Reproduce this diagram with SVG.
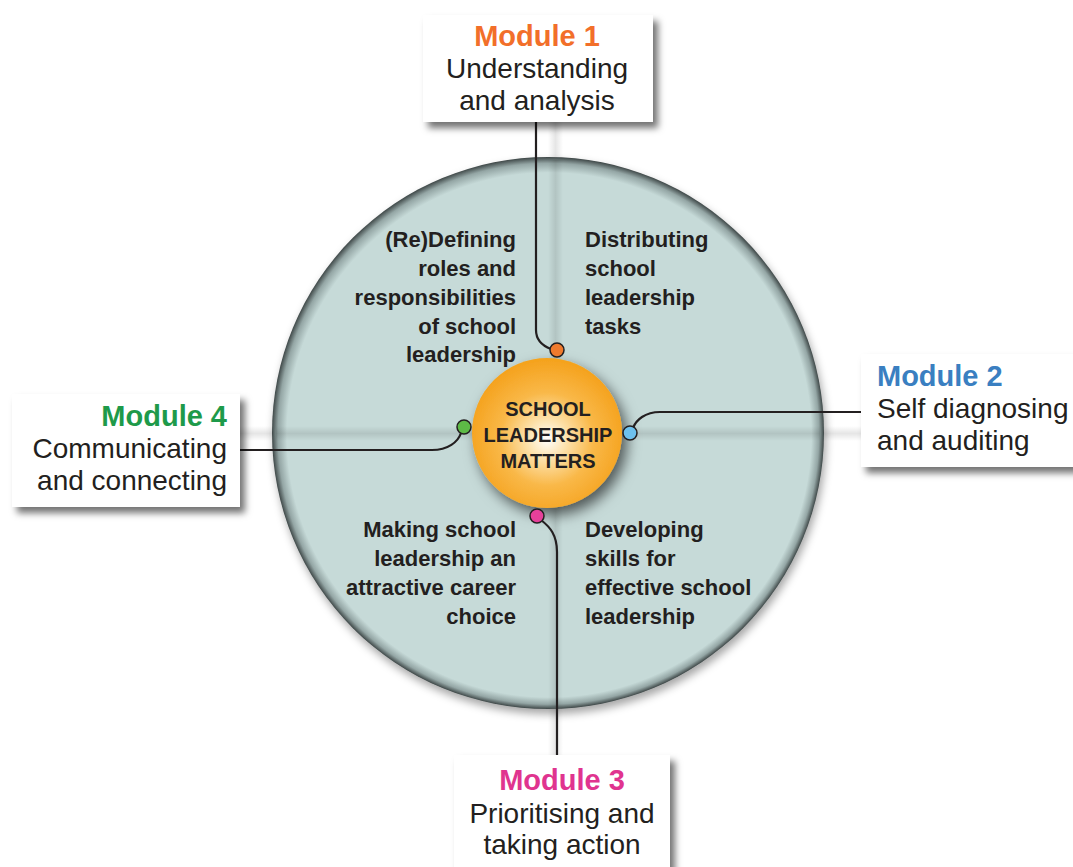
<svg xmlns="http://www.w3.org/2000/svg" width="1073" height="867" viewBox="0 0 1073 867">
<defs>
<style>
.box{fill:#ffffff;filter:url(#boxsh)}
.ttl{font-family:"Liberation Sans",Arial,sans-serif;font-weight:bold;font-size:29px}
.sub{font-family:"Liberation Sans",Arial,sans-serif;font-size:28px;fill:#231f20}
.in{font-family:"Liberation Sans",Arial,sans-serif;font-weight:bold;font-size:22px;fill:#231f20}
.ctr{font-family:"Liberation Sans",Arial,sans-serif;font-weight:bold;font-size:20px;fill:#231f20;text-anchor:middle}
.con{fill:none;stroke:#231f20;stroke-width:2.2}
.dot{stroke:#231f20;stroke-width:1.5}
</style>
<filter id="boxsh" x="-20%" y="-20%" width="150%" height="160%">
<feDropShadow dx="5" dy="6" stdDeviation="3.5" flood-color="#000" flood-opacity="0.55"/>
</filter>
<filter id="bigsh" x="-20%" y="-20%" width="140%" height="140%">
<feDropShadow dx="2" dy="5" stdDeviation="4" flood-color="#000" flood-opacity="0.35"/>
</filter>
<filter id="orsh" x="-40%" y="-40%" width="180%" height="180%">
<feDropShadow dx="5" dy="7" stdDeviation="7" flood-color="#000" flood-opacity="0.6"/>
</filter>
<radialGradient id="bigg" cx="50%" cy="50%" r="50%" fx="54%" fy="57%">
<stop offset="0" stop-color="#c6dad8"/>
<stop offset="0.95" stop-color="#c6dad8"/>
<stop offset="0.98" stop-color="#94a6a5"/>
<stop offset="1" stop-color="#3e4747"/>
</radialGradient>
<radialGradient id="org" cx="50%" cy="54%" r="52%">
<stop offset="0" stop-color="#ffffff"/>
<stop offset="0.25" stop-color="#fde2ad"/>
<stop offset="0.6" stop-color="#f9b848"/>
<stop offset="1" stop-color="#f5a31f"/>
</radialGradient>
<linearGradient id="vband" x1="0" y1="0" x2="1" y2="0">
<stop offset="0" stop-color="#000" stop-opacity="0"/>
<stop offset="0.5" stop-color="#000" stop-opacity="0.1"/>
<stop offset="1" stop-color="#000" stop-opacity="0"/>
</linearGradient>
<linearGradient id="hband" x1="0" y1="0" x2="0" y2="1">
<stop offset="0" stop-color="#000" stop-opacity="0"/>
<stop offset="0.5" stop-color="#000" stop-opacity="0.1"/>
<stop offset="1" stop-color="#000" stop-opacity="0"/>
</linearGradient>
</defs>
<rect width="1073" height="867" fill="#ffffff"/>

<g id="hub">
<rect x="548" y="120" width="15" height="640" fill="url(#vband)"/>
<rect x="238" y="426" width="626" height="15" fill="url(#hband)"/>
<circle cx="548" cy="433" r="276" fill="url(#bigg)" filter="url(#bigsh)"/>
<rect x="548" y="160" width="15" height="547" fill="url(#vband)"/>
<rect x="276" y="426" width="544" height="15" fill="url(#hband)"/>
<circle cx="547" cy="433" r="75" fill="url(#org)" filter="url(#orsh)"/>
<text class="ctr" x="548" y="416">SCHOOL</text>
<text class="ctr" x="548" y="442">LEADERSHIP</text>
<text class="ctr" x="548" y="468">MATTERS</text>
</g>

<g id="topics">
<g id="topic-roles" class="in" text-anchor="end">
<text x="516" y="247">(Re)Defining</text>
<text x="516" y="276">roles and</text>
<text x="516" y="305">responsibilities</text>
<text x="516" y="334">of school</text>
<text x="516" y="362">leadership</text>
</g>
<g id="topic-distributing" class="in">
<text x="585" y="247">Distributing</text>
<text x="585" y="276">school</text>
<text x="585" y="305">leadership</text>
<text x="585" y="334">tasks</text>
</g>
<g id="topic-attractive" class="in" text-anchor="end">
<text x="516" y="537">Making school</text>
<text x="516" y="566">leadership an</text>
<text x="516" y="595">attractive career</text>
<text x="516" y="624">choice</text>
</g>
<g id="topic-skills" class="in">
<text x="585" y="537">Developing</text>
<text x="585" y="566">skills for</text>
<text x="585" y="595">effective school</text>
<text x="585" y="624">leadership</text>
</g>
</g>

<g id="connectors">
<path class="con" d="M536 122 L536 330 C536 340 543 346 551 349"/>
<path class="con" d="M861 412 L660 412 C645 412 636 420 633 428"/>
<path class="con" d="M240 450 L432 450 C448 450 458 442 461 433"/>
<path class="con" d="M541 520 C550 527 557 535 557 552 L557 755"/>
<circle class="dot" cx="557" cy="350" r="7" fill="#ef7a2d"/>
<circle class="dot" cx="630" cy="433" r="7" fill="#6dc1ee"/>
<circle class="dot" cx="464" cy="427" r="7" fill="#5dba46"/>
<circle class="dot" cx="537" cy="516" r="7" fill="#e6409a"/>
</g>

<g id="module1">
<rect class="box" x="423" y="15" width="230" height="107"/>
<text class="ttl" x="537" y="46" text-anchor="middle" fill="#f26f2a">Module 1</text>
<text class="sub" x="537" y="78" text-anchor="middle">Understanding</text>
<text class="sub" x="537" y="110" text-anchor="middle">and analysis</text>
</g>

<g id="module2">
<rect class="box" x="861" y="354" width="220" height="113"/>
<text class="ttl" x="877" y="386" fill="#3a7fc1">Module 2</text>
<text class="sub" x="877" y="418">Self diagnosing</text>
<text class="sub" x="877" y="450">and auditing</text>
</g>

<g id="module4">
<rect class="box" x="12" y="394" width="228" height="113"/>
<text class="ttl" x="227" y="426" text-anchor="end" fill="#1e9a4a">Module 4</text>
<text class="sub" x="227" y="458" text-anchor="end">Communicating</text>
<text class="sub" x="227" y="490" text-anchor="end">and connecting</text>
</g>

<g id="module3">
<rect class="box" x="454" y="755" width="216" height="125"/>
<text class="ttl" x="562" y="790" text-anchor="middle" fill="#e0348f">Module 3</text>
<text class="sub" x="562" y="823" text-anchor="middle">Prioritising and</text>
<text class="sub" x="562" y="854" text-anchor="middle">taking action</text>
</g>
</svg>
